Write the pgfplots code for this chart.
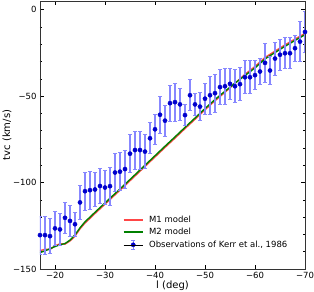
\documentclass[border=0pt]{standalone}
\usepackage{fontspec}
\setmainfont{DejaVu Sans}
\usepackage{pgfplots}
\usepackage{pgfplotstable}
\pgfplotsset{compat=1.18}
\definecolor{mred}{RGB}{255,70,70}
\definecolor{mgreen}{RGB}{0,128,0}
\definecolor{ebar}{RGB}{135,135,255}
\definecolor{obs}{RGB}{0,0,205}

\pgfplotstableread{
l v e
-17 -130.4 11
-18 -130.4 11
-19 -131.0 10
-20 -126.5 10
-21 -127.1 9
-22 -120.4 9
-23 -122.2 9
-24 -124.1 7
-25 -111.5 10
-26 -105.0 11
-27 -104.4 11
-28 -104.0 10
-29 -102.0 10
-30 -102.9 10
-31 -102.1 11
-32 -94.2 11
-33 -93.7 11
-34 -92.2 11
-35 -83.3 11
-36 -81.2 11
-37 -81.2 11
-38 -82.1 10
-39 -74.4 9
-40 -69.2 8.5
-41 -60.8 10.5
-42 -64.2 9
-43 -54.1 10.5
-44 -53.5 11
-45 -54.8 9.5
-46 -61.0 6
-47 -49.5 9
-48 -54.8 6.5
-49 -56.1 8
-50 -51.5 9
-51 -49.5 11
-52 -48.3 11
-53 -44.8 10
-54 -44.3 10.5
-55 -42.9 9
-56 -44.3 9.5
-57 -43.1 9.5
-58 -39.1 9.5
-59 -39.1 9.5
-60 -37.9 8.5
-61 -35.8 7.5
-62 -30.8 11
-63 -35.2 8
-64 -28.3 9.5
-65 -26.1 9
-66 -25.2 9
-67 -25.2 9
-68 -22.3 7.5
-69 -18.5 11.5
-70 -12.9 12
}\obsdata

\pgfplotstableread{
l v
-17 -139.4
-18 -138.6
-19 -138.7
-20 -136.6
-21 -135.4
-22 -135.6
-23 -133.8
-24 -131.0
-25 -126.8
-26 -123.4
-27 -120.7
-28 -117.9
-29 -115.2
-30 -112.5
-32 -107.1
-34 -101.7
-36 -96.2
-38 -90.7
-40 -85.2
-42 -79.7
-44 -74.3
-46 -68.8
-48 -63.4
-50 -57.9
-52 -52.7
-54 -47.8
-56 -42.6
-58 -37.4
-60 -32.9
-62 -27.7
-64 -24.0
-66 -20.4
-68 -17.0
-70 -13.8
}\mone

\pgfplotstableread{
l v
-17 -140.5
-18 -139.5
-19 -138.3
-20 -137.0
-21 -136.0
-22 -135.3
-23 -133.3
-24 -130.3
-25 -126.2
-26 -122.7
-27 -120.0
-28 -117.2
-29 -114.5
-30 -111.8
-32 -106.4
-34 -101.0
-36 -95.5
-38 -90.0
-40 -84.5
-42 -79.0
-44 -73.6
-46 -68.1
-48 -62.7
-50 -57.2
-52 -52.0
-54 -47.2
-56 -42.5
-58 -38.1
-60 -33.7
-62 -28.5
-64 -24.8
-66 -21.2
-68 -17.8
-70 -14.5
}\mtwo

\begin{document}
\begin{tikzpicture}
\useasboundingbox (-40pt,-23pt) rectangle (274pt,269pt);
\begin{axis}[
  at={(0,0)}, anchor=south west,
  scale only axis, width=265pt, height=268pt,
  x dir=reverse, xmin=-70, xmax=-17,
  ymin=-150, ymax=5,
  xtick={-20,-30,-40,-50,-60,-70},
  xticklabels={−20,−30,−40,−50,−60,−70},
  ytick={-150,-100,-50,0},
  yticklabels={−150,−100,−50,0},
  minor ytick={-140,-130,-120,-110,-90,-80,-70,-60,-40,-30,-20,-10},
  tick align=inside,
  major tick length=4pt, minor tick length=2pt,
  tick style={black, line width=0.5pt},
  axis line style={black!80, line width=0.8pt},
  tick label style={font=\fontsize{8.5}{10}\selectfont},
  label style={font=\fontsize{8.5}{10}\selectfont},
  every axis x label/.style={at={(axis description cs:0.5,-0.0634)}, anchor=center},
  every axis y label/.style={at={(axis description cs:-0.1245,0.5)}, rotate=90, anchor=center},
  xlabel={l (deg)},
  ylabel={tvc (km/s)},
  legend cell align=left,
  legend style={at={(axis description cs:0.3132,0.1987)}, anchor=north west,
    draw=none, fill=none, inner sep=0pt, outer sep=0pt,
    font=\fontsize{8.5}{10}\selectfont,
    row sep=3.5pt, column sep=5.7pt,
    nodes={inner sep=0pt, text height=6.5pt, text depth=2pt}},
]
\addplot[mred, line width=1.4pt, legend image code/.code={\draw[mred, line width=1.4pt] (0pt,0pt) -- (19pt,0pt);}] table[x=l, y=v] {\mone};
\addlegendentry{M1 model}
\addplot[mgreen, line width=1.4pt, legend image code/.code={\draw[mgreen, line width=1.4pt] (0pt,0pt) -- (19pt,0pt);}] table[x=l, y=v] {\mtwo};
\addlegendentry{M2 model}
\addplot[only marks, mark=*, mark size=2.1pt, mark options={obs, draw=obs, fill=obs},
  legend image code/.code={
    \draw[ebar, line width=1.1pt] (9.5pt,-4.5pt) -- (9.5pt,4.5pt);
    \draw[ebar, line width=0.8pt] (7.7pt,-4.5pt) -- (11.3pt,-4.5pt);
    \draw[ebar, line width=0.8pt] (7.7pt,4.5pt) -- (11.3pt,4.5pt);
    \fill[obs] (9.5pt,0pt) circle (2.1pt);
    \path (0pt,0pt) -- (19pt,0pt);},
  error bars/.cd, y dir=both, y explicit,
  error bar style={ebar, line width=1.1pt},
  error mark options={rotate=90, ebar, mark size=1.8pt, line width=0.8pt},
  ] table[x=l, y=v, y error=e] {\obsdata};
\addlegendentry{Observations of Kerr et al., 1986}
\end{axis}
\end{tikzpicture}
\end{document}
